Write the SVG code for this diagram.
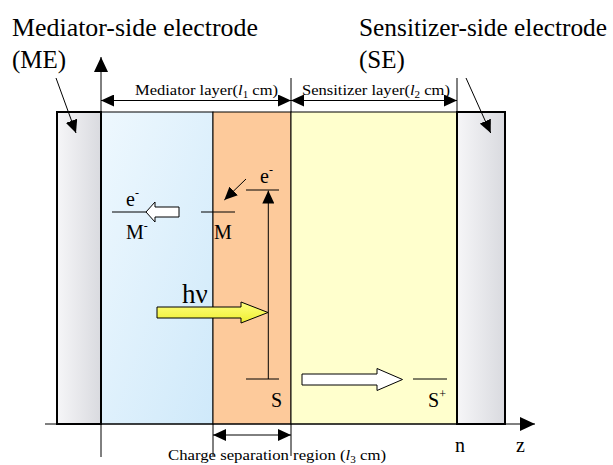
<svg xmlns="http://www.w3.org/2000/svg" width="613" height="465" viewBox="0 0 613 465" font-family="'Liberation Serif','Times New Roman','DejaVu Serif',serif">
<style>
text{font-family:"Liberation Serif","Times New Roman","DejaVu Serif",serif;fill:#000}
.big{font-size:25px}
.lbl{font-size:20px}
.dim{font-size:15px}
.ln{stroke:#000;stroke-width:1;fill:none}
.bd{stroke:#000;stroke-width:1}
.el{stroke:#000;stroke-width:2}
</style>
<defs>
<marker id="ah" viewBox="0 0 13 12" refX="13" refY="6" markerWidth="13" markerHeight="12" markerUnits="userSpaceOnUse" orient="auto-start-reverse"><path d="M0,0 L13,6 L0,12 z" fill="#000"/></marker>
<marker id="ahb" viewBox="0 0 15 14" refX="15" refY="7" markerWidth="15" markerHeight="14" markerUnits="userSpaceOnUse" orient="auto"><path d="M0,0 L15,7 L0,14 z" fill="#000"/></marker>
<linearGradient id="gEl" x1="0" y1="0" x2="1" y2="0"><stop offset="0" stop-color="#f6f6f8"/><stop offset="1" stop-color="#d9dadf"/></linearGradient>
<linearGradient id="gBlue" x1="0" y1="0" x2="1" y2="1"><stop offset="0" stop-color="#eef8fe"/><stop offset="1" stop-color="#cfe9fa"/></linearGradient>
<linearGradient id="gHv" x1="0" y1="0" x2="0" y2="1"><stop offset="0" stop-color="#ffff80"/><stop offset="1" stop-color="#eeee30"/></linearGradient>
</defs>

<g id="mediator-layer"><rect x="101" y="112" width="112" height="312" fill="url(#gBlue)" class="bd"/></g>
<g id="separation-region"><rect x="213" y="112" width="78" height="312" fill="#fdca9b" class="bd"/></g>
<g id="sensitizer-layer"><rect x="291" y="112" width="166" height="312" fill="#ffffcd" class="bd"/></g>
<g id="ME"><rect x="57" y="112" width="44" height="312" fill="url(#gEl)" class="el"/></g>
<g id="SE"><rect x="457" y="112" width="48" height="312" fill="url(#gEl)" class="el"/></g>

<g id="titles">
<text class="big" x="12" y="36" textLength="246" lengthAdjust="spacingAndGlyphs">Mediator-side electrode</text>
<text class="big" x="12" y="68">(ME)</text>
<text class="big" x="359" y="36" textLength="248" lengthAdjust="spacingAndGlyphs">Sensitizer-side electrode</text>
<text class="big" x="359" y="68">(SE)</text>
</g>

<g id="dimension-labels">
<text class="dim" x="135" y="95" textLength="143" lengthAdjust="spacingAndGlyphs">Mediator layer(<tspan font-style="italic">l</tspan><tspan dy="3" font-size="10">1</tspan><tspan dy="-3"> cm)</tspan></text>
<text class="dim" x="302" y="95" textLength="148" lengthAdjust="spacingAndGlyphs">Sensitizer layer(<tspan font-style="italic">l</tspan><tspan dy="3" font-size="10">2</tspan><tspan dy="-3"> cm)</tspan></text>
<text class="dim" x="168" y="460" textLength="218" lengthAdjust="spacingAndGlyphs">Charge separation region (<tspan font-style="italic">l</tspan><tspan dy="3" font-size="10">3</tspan><tspan dy="-3"> cm)</tspan></text>
</g>

<g id="levels">
<line class="ln" x1="112" y1="212" x2="146" y2="212"/>
<line class="ln" x1="201" y1="212" x2="235" y2="212"/>
<line class="ln" x1="246" y1="190" x2="279" y2="190"/>
<line class="ln" x1="246" y1="379" x2="279" y2="379"/>
<line class="ln" x1="413" y1="379" x2="447" y2="379"/>
</g>

<g id="species">
<text class="lbl" x="126" y="206">e<tspan dy="-9" font-size="12">-</tspan></text>
<text class="lbl" x="126" y="239">M<tspan dy="-9" font-size="12">-</tspan></text>
<text class="lbl" x="214" y="239">M</text>
<text class="lbl" x="260" y="183">e<tspan dy="-9" font-size="12">-</tspan></text>
<text class="lbl" x="271" y="407">S</text>
<text class="lbl" x="428" y="407">S<tspan dy="-9" font-size="12">+</tspan></text>
<text class="lbl" x="455" y="452">n</text>
<text class="lbl" x="516" y="452">z</text>
<text x="182" y="303" font-size="27">hν</text>
</g>

<g id="block-arrows">
<path d="M146,212 L155,202 L155,207 L179,207 L179,217 L155,217 L155,222 Z" fill="#fff" stroke="#000" stroke-width="1"/>
<path d="M157,307 L241,307 L241,302 L268,312.5 L241,323 L241,318 L157,318 Z" fill="url(#gHv)" stroke="#000" stroke-width="1"/>
<path d="M302,374 L377,374 L377,368.5 L402.5,379.5 L377,390.5 L377,385 L302,385 Z" fill="#fff" stroke="#000" stroke-width="1"/>
</g>

<g id="connectors">
<line class="ln" x1="101" y1="457" x2="101" y2="57" marker-end="url(#ahb)"/>
<line class="ln" x1="45" y1="424" x2="535" y2="424" marker-end="url(#ahb)"/>
<line class="ln" x1="101" y1="100.5" x2="291" y2="100.5" marker-start="url(#ah)" marker-end="url(#ah)"/>
<line class="ln" x1="291" y1="100.5" x2="457" y2="100.5" marker-start="url(#ah)" marker-end="url(#ah)"/>
<line class="ln" x1="291" y1="78" x2="291" y2="112"/>
<line class="ln" x1="457" y1="78" x2="457" y2="112"/>
<line class="ln" x1="213" y1="424" x2="213" y2="456"/>
<line class="ln" x1="291" y1="424" x2="291" y2="456"/>
<line class="ln" x1="213" y1="435" x2="291" y2="435" marker-start="url(#ah)" marker-end="url(#ah)"/>
<line class="ln" x1="56" y1="78" x2="76" y2="133" marker-end="url(#ah)"/>
<line class="ln" x1="466" y1="78" x2="490.7" y2="133" marker-end="url(#ah)"/>
<line class="ln" x1="246" y1="179" x2="224.3" y2="200" marker-end="url(#ah)"/>
<line class="ln" x1="268.3" y1="379" x2="268.3" y2="190.5" marker-end="url(#ah)"/>
</g>
</svg>
